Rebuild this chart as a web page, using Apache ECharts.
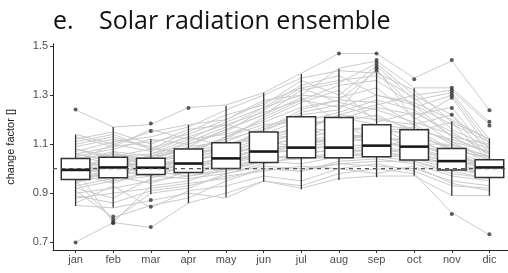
<!DOCTYPE html>
<html>
<head>
<meta charset="utf-8">
<script src="https://cdn.jsdelivr.net/npm/echarts@6/dist/echarts.min.js"></script>
<style>html,body{margin:0;padding:0;background:#fff;}#c{width:508px;height:273px;}</style>
</head>
<body>
<div id="c"></div>
<script>
const months = ['jan','feb','mar','apr','may','jun','jul','aug','sep','oct','nov','dic'];
const yTicks = [0.7, 0.9, 1.1, 1.3, 1.5];
// box statistics per month: [lower whisker, Q1, median, Q3, upper whisker]
const boxLow  = [0.848, 0.841, 0.896, 0.859, 0.883, 0.947, 0.916, 0.954, 0.965, 0.971, 0.889, 0.889];
const boxQ1   = [0.956, 0.963, 0.976, 0.984, 1.001, 1.025, 1.045, 1.045, 1.049, 1.035, 0.995, 0.964];
const boxMed  = [0.995, 1.005, 1.004, 1.021, 1.042, 1.070, 1.086, 1.086, 1.094, 1.090, 1.031, 1.005];
const boxQ3   = [1.042, 1.047, 1.043, 1.080, 1.106, 1.150, 1.212, 1.209, 1.179, 1.159, 1.082, 1.036];
const boxHigh = [1.139, 1.170, 1.121, 1.179, 1.257, 1.310, 1.386, 1.408, 1.392, 1.328, 1.194, 1.124];
// outliers: [month index (1-based), value]
const outliers = [
  [1,1.242],[1,0.699],
  [2,0.805],[2,0.792],[2,0.781],[2,0.777],
  [3,1.184],[3,1.154],[3,0.872],[3,0.845],[3,0.762],
  [4,1.248],
  [8,1.470],
  [9,1.470],[9,1.444],[9,1.432],[9,1.420],[9,1.410],[9,1.400],
  [10,1.365],
  [11,1.444],[11,1.330],[11,1.320],[11,1.310],[11,1.300],[11,1.290],[11,1.248],[11,1.220],[11,0.815],
  [12,1.239],[12,1.192],[12,1.176],[12,0.732]
];
const refValue = 1.0;
// ensemble members (jan..dic)
const members = [
  [0.70,0.78,0.76,0.86,0.90,0.95,0.93,0.98,1.00,0.98,0.82,0.73],
  [1.24,1.17,1.18,1.25,1.26,1.31,1.39,1.47,1.47,1.37,1.44,1.24],
  [1.14,1.10,1.15,1.18,1.20,1.28,1.30,1.41,1.44,1.33,1.33,1.19],
  [0.85,0.84,0.87,0.90,0.88,0.95,0.92,0.96,0.97,0.97,0.89,0.89],
  [0.91,0.80,0.85,0.88,0.95,1.00,0.99,1.02,1.01,1.00,0.95,0.93],
  [0.95,0.79,0.90,0.92,0.98,1.02,1.05,1.04,1.05,1.03,0.99,0.96],
  [1.00,0.78,0.93,0.95,1.00,1.03,1.04,1.06,1.08,1.04,1.00,0.98],
  [1.05,1.08,1.12,1.10,1.16,1.22,1.32,1.35,1.43,1.30,1.32,1.18],
  [1.10,1.13,1.08,1.15,1.22,1.26,1.36,1.30,1.42,1.28,1.31,1.12],
  [1.08,1.05,1.06,1.12,1.14,1.19,1.25,1.28,1.40,1.25,1.30,1.10],
  [1.02,1.06,1.04,1.09,1.11,1.17,1.22,1.24,1.41,1.20,1.29,1.08],
  [0.98,1.02,1.01,1.04,1.08,1.12,1.18,1.20,1.25,1.22,1.25,1.06],
  [0.96,0.98,0.99,1.00,1.05,1.10,1.15,1.22,1.20,1.18,1.22,1.04],
  [1.04,1.00,1.02,1.02,1.04,1.08,1.10,1.12,1.15,1.15,1.19,1.03],
  [0.99,1.04,1.00,0.99,1.02,1.06,1.08,1.09,1.10,1.10,1.10,1.02],
  [0.93,0.96,0.98,0.98,1.01,1.04,1.06,1.08,1.09,1.12,1.06,1.00],
  [1.06,1.03,1.05,1.07,1.10,1.14,1.20,1.18,1.12,1.08,1.04,1.01],
  [0.97,1.01,0.98,1.03,1.06,1.09,1.13,1.10,1.16,1.14,1.08,0.99],
  [0.90,0.92,0.95,0.97,0.99,1.03,1.02,1.05,1.06,1.04,1.02,0.97],
  [1.12,1.15,1.10,1.16,1.18,1.23,1.28,1.25,1.30,1.26,1.18,1.11],
  [1.03,1.10,1.07,1.13,1.09,1.15,1.23,1.26,1.21,1.16,1.12,1.07],
  [0.88,0.90,0.92,0.94,0.96,1.00,0.99,1.03,1.04,1.02,0.97,0.95],
  [1.01,0.97,1.03,1.05,1.07,1.11,1.09,1.14,1.13,1.11,1.05,1.02],
  [0.94,1.07,1.00,1.01,1.03,1.07,1.07,1.07,1.08,1.06,1.03,1.00],
  [0.99,0.95,1.04,1.08,1.12,1.16,1.21,1.21,1.18,1.16,1.08,1.04],
  [1.09,1.12,1.09,1.05,1.10,1.13,1.17,1.15,1.11,1.09,1.07,1.05],
  [0.92,0.88,0.96,1.02,1.04,1.05,1.04,1.05,1.07,1.05,1.02,0.99],
  [1.01,1.04,0.97,1.06,1.13,1.20,1.27,1.32,1.19,1.23,1.15,1.06],
  [0.96,0.99,1.01,1.00,1.03,1.06,1.08,1.10,1.09,1.07,1.00,0.97],
  [1.00,1.01,1.02,1.04,1.05,1.10,1.12,1.16,1.17,1.10,1.05,1.02],
  [1.13,1.09,1.16,1.12,1.19,1.25,1.34,1.38,1.30,1.27,1.20,1.12],
  [0.86,0.93,0.84,0.91,0.93,0.97,0.95,1.00,0.98,1.01,0.94,0.91],
  [0.97,0.99,1.00,1.02,1.04,1.08,1.10,1.12,1.14,1.09,1.04,1.00],
  [1.05,1.02,1.04,1.08,1.06,1.12,1.16,1.13,1.11,1.13,1.09,1.05],
  [1.07,1.11,1.13,1.17,1.24,1.30,1.37,1.40,1.39,1.32,1.19,1.12],
  [1.02,0.98,1.06,1.10,1.15,1.24,1.33,1.36,1.38,1.29,1.16,1.09],
  [0.94,1.00,1.03,1.07,1.12,1.21,1.28,1.34,1.36,1.26,1.13,1.06],
  [1.03,1.07,1.05,1.11,1.17,1.25,1.30,1.29,1.33,1.21,1.11,1.03],
  [0.98,0.94,0.99,0.97,1.00,1.04,1.05,1.06,1.05,1.06,1.01,0.98],
  [1.00,1.03,1.01,1.03,1.07,1.09,1.06,1.08,1.07,1.08,1.03,1.01],
  [0.92,0.95,0.97,0.96,0.98,1.01,1.00,1.02,1.03,1.03,0.98,0.96],
  [1.06,1.09,1.11,1.14,1.20,1.27,1.33,1.27,1.24,1.19,1.14,1.08],
  [1.11,1.14,1.08,1.07,1.13,1.18,1.19,1.23,1.28,1.24,1.13,1.10],
  [0.95,0.97,0.94,0.99,1.02,1.05,1.11,1.14,1.12,1.12,1.06,1.01],
  [0.89,0.86,0.91,0.93,0.97,0.99,1.01,1.00,1.02,0.99,0.93,0.92],
  [1.04,1.06,1.03,1.06,1.09,1.16,1.24,1.28,1.27,1.18,1.10,1.05],
  [0.97,1.02,1.05,1.09,1.16,1.22,1.29,1.19,1.22,1.15,1.07,1.02],
  [1.08,1.04,1.00,1.04,1.10,1.12,1.14,1.17,1.15,1.17,1.11,1.07],
  [0.99,1.05,1.08,1.13,1.18,1.14,1.16,1.22,1.26,1.30,1.22,1.08],
  [1.01,0.99,0.97,1.01,1.05,1.08,1.09,1.11,1.12,1.07,1.02,0.99]
];

const chart = echarts.init(document.getElementById('c'), null, {renderer: 'canvas'});
const xs = months.map((m, i) => i + 1);
const xRange = [0.4, 12.6];
const boxData = xs.map((x, i) => [x, boxLow[i], boxQ1[i], boxMed[i], boxQ3[i], boxHigh[i]]);

const lineSeries = members.map(vals => ({
  type: 'line',
  data: vals.map((v, i) => [xs[i], v]),
  showSymbol: false,
  symbol: 'none',
  silent: true,
  z: 1,
  lineStyle: {color: '#cbcbcb', width: 1},
  animation: false
}));

const axisFont = {fontFamily: 'Liberation Sans, Arial, sans-serif', fontSize: 11, color: '#4d4d4d'};
const titleFont = {fontFamily: 'Open Sans, sans-serif', fontSize: 25, fontWeight: 'normal', color: '#111'};

chart.setOption({
  animation: false,
  backgroundColor: '#fff',
  title: [
    {text: 'e.', left: 48, top: 4, textStyle: titleFont},
    {text: 'Solar radiation ensemble', left: 94, top: 4, textStyle: titleFont}
  ],
  grid: {left: 53, top: 43.75, width: 459, height: 206.25, containLabel: false, outerBoundsMode: 'none'},
  xAxis: {
    type: 'value', min: xRange[0], max: xRange[1],
    splitLine: {show: false},
    axisLine: {show: true, onZero: false, lineStyle: {color: '#222', width: 1}},
    axisTick: {show: true, length: 3, customValues: xs, lineStyle: {color: '#333'}},
    axisLabel: Object.assign({margin: 4, customValues: xs, formatter: v => months[Math.round(v) - 1] || ''}, axisFont)
  },
  yAxis: {
    type: 'value', min: 0.668, max: 1.51,
    name: 'change factor []', nameLocation: 'middle', nameGap: 37, nameRotate: 90,
    nameTextStyle: {fontFamily: 'Liberation Sans, Arial, sans-serif', fontSize: 11, color: '#222'},
    splitLine: {show: false},
    axisLine: {show: true, onZero: false, lineStyle: {color: '#222', width: 1}},
    axisTick: {show: true, length: 3, customValues: yTicks, lineStyle: {color: '#333'}},
    axisLabel: Object.assign({margin: 5, customValues: yTicks, formatter: v => v.toFixed(1)}, axisFont)
  },
  series: lineSeries.concat([
    {
      type: 'custom',
      z: 2,
      data: boxData,
      encode: {x: 0, y: [1, 2, 3, 4, 5]},
      renderItem: function (params, api) {
        const x = api.value(0);
        const pLo = api.coord([x, api.value(1)]);
        const pQ1 = api.coord([x, api.value(2)]);
        const pMed = api.coord([x, api.value(3)]);
        const pQ3 = api.coord([x, api.value(4)]);
        const pHi = api.coord([x, api.value(5)]);
        const bw = api.size([1, 0])[0] * 0.76;
        const cx = pMed[0];
        const stroke = {stroke: '#333', lineWidth: 1.3};
        return {
          type: 'group',
          children: [
            {type: 'line', shape: {x1: cx, y1: pHi[1], x2: cx, y2: pQ3[1]}, style: stroke},
            {type: 'line', shape: {x1: cx, y1: pQ1[1], x2: cx, y2: pLo[1]}, style: stroke},
            {type: 'rect', shape: {x: cx - bw / 2, y: pQ3[1], width: bw, height: pQ1[1] - pQ3[1]},
             style: {fill: '#fff', stroke: '#333', lineWidth: 1.5}},
            {type: 'line', shape: {x1: cx - bw / 2, y1: pMed[1], x2: cx + bw / 2, y2: pMed[1]},
             style: {stroke: '#1a1a1a', lineWidth: 2.6}}
          ]
        };
      }
    },
    {
      type: 'line',
      z: 5,
      data: [[xRange[0], refValue], [xRange[1], refValue]],
      symbol: 'none',
      silent: true,
      lineStyle: {color: '#555', width: 1.2, type: [4, 4]}
    },
    {
      type: 'scatter',
      z: 6,
      data: outliers,
      symbol: 'circle',
      symbolSize: 4,
      itemStyle: {color: '#333'}
    }
  ])
});
</script>
</body>
</html>
